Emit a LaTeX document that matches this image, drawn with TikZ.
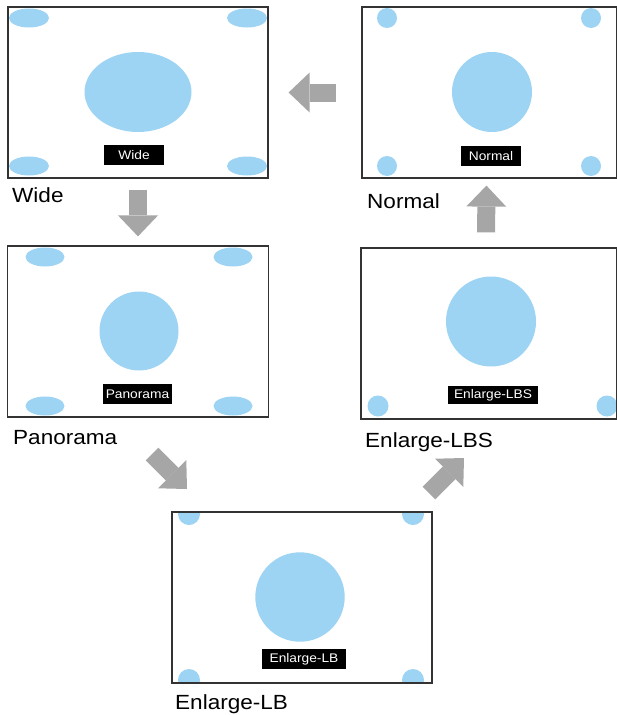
\documentclass[tikz,border=0pt]{standalone}
\usepackage{fontspec}
\setmainfont{Liberation Sans}
\newfontfamily\capfont{Liberation Sans}[FakeStretch=1.1]
\usetikzlibrary{arrows.meta,backgrounds}
\definecolor{spotblue}{RGB}{157,211,243}
\definecolor{arrowgray}{RGB}{166,166,166}
\begin{document}
\begin{tikzpicture}[x=1pt,y=-1pt,
  panel/.style={draw=black!80, line width=1.2pt, minimum height=171pt, inner sep=0pt},
  tag/.style={fill=black, text=white, font=\capfont\fontsize{12.5}{12.5}\selectfont, minimum height=20pt, inner sep=0pt},
  caption/.style={anchor=base west, inner sep=0pt, font=\capfont\fontsize{20.5}{24}\selectfont},
  bigarrow/.style={arrowgray, line width=18pt, -{Triangle[width=40pt,length=21pt,line width=0pt]}}]
\useasboundingbox (0,0) rectangle (616,715);
% screens
\node[panel, minimum width=260pt] (wide) at (138,92.5) {};
\node[panel, minimum width=255pt] (normal) at (489.5,92.5) {};
\node[panel, minimum width=261pt] (pano) at (138,331.5) {};
\node[panel, minimum width=256pt] (lbs) at (489,333.5) {};
\node[panel, minimum width=260pt] (lb) at (302,597.5) {};
% picture content
\begin{scope}[on background layer]
\fill[spotblue] (138,92) ellipse [x radius=53.5, y radius=40];
\foreach \x/\y in {29/18, 247/18, 29/166, 247/166}
  \fill[spotblue] (\x,\y) ellipse [x radius=20, y radius=9.5];
\fill[spotblue] (492,92) circle [radius=40];
\foreach \x/\y in {387/18, 591/18, 387/166, 591/166}
  \fill[spotblue] (\x,\y) circle [radius=10];
\fill[spotblue] (139,331) circle [radius=39.5];
\foreach \x/\y in {45/257, 233/257, 45/406, 233/406}
  \fill[spotblue] (\x,\y) ellipse [x radius=19.5, y radius=9.5];
\fill[spotblue] (491,321.5) circle [radius=45];
\foreach \x in {378, 607}
  \fill[spotblue] (\x,406) circle [radius=10.5];
\fill[spotblue] (300,597) circle [radius=44.7];
\begin{scope}
\clip (lb.south west) rectangle (lb.north east);
\foreach \x/\y in {189/514, 413/514, 189/680, 413/680}
  \fill[spotblue] (\x,\y) circle [radius=11];
\end{scope}
\end{scope}
% tags
\node[tag, minimum width=60pt] (widetag) at (134,155) {Wide};
\node[tag, minimum width=60pt] (normaltag) at (491,156) {Normal};
\node[tag, minimum width=69pt] (panotag) at (137.5,394) {Panorama};
\node[tag, minimum width=90pt, minimum height=18pt] (lbstag) at (493,395) {Enlarge-LBS};
\node[tag, minimum width=84pt] (lbtag) at (304,659) {Enlarge-LB};
% captions
\node[caption] (widecap) at (12,202) {Wide};
\node[caption] (normalcap) at (367,208) {Normal};
\node[caption] (panocap) at (13,444) {Panorama};
\node[caption] (lbscap) at (365,447) {Enlarge-LBS};
\node[caption] (lbcap) at (175,709) {Enlarge-LB};
% arrows
\coordinate (panoout) at (152,454);
\coordinate (lbin) at (187,489);
\coordinate (lbout) at (429,493);
\coordinate (lbsin) at (464,458);
\draw[bigarrow, shorten <=25pt, shorten >=20pt] (normal.west) -- (wide.east);
\draw[bigarrow, shorten <=11pt, shorten >=9pt] (wide.south) -- (pano.north);
\draw[bigarrow] (panoout) -- (lbin);
\draw[bigarrow] (lbout) -- (lbsin);
\draw[bigarrow, shorten <=15pt, shorten >=7pt] ([xshift=-3pt]lbs.north) -- ([xshift=-3pt]normal.south);
\end{tikzpicture}
\end{document}
